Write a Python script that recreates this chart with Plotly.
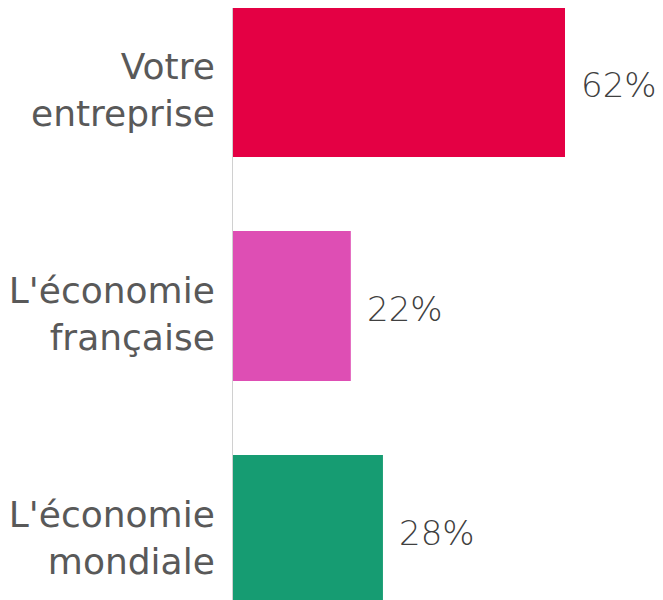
import plotly.graph_objects as go

categories = ["Votre<br>entreprise", "L'économie<br>française", "L'économie<br>mondiale"]
values = [62, 22, 28]
colors = ["#E40044", "#DE4EB4", "#169C72"]

fig = go.Figure()
fig.add_trace(go.Bar(
    x=values, y=categories, orientation="h",
    marker=dict(color=colors, line=dict(width=0)),
    width=0.67,
    hoverinfo="skip",
))
for c, v in zip(categories, values):
    fig.add_annotation(x=v, y=c, text=f"{v}%", showarrow=False,
                       xanchor="left", xshift=14, yshift=-3,
                       font=dict(family="DejaVu Sans", size=34, color="#404040", weight=300))

fig.update_layout(
    width=655, height=592,
    margin=dict(l=225, r=0, t=0, b=0, autoexpand=False),
    paper_bgcolor="white", plot_bgcolor="white",
    showlegend=False,
)
fig.update_xaxes(range=[0, 80.3], visible=False, automargin=False)
fig.update_yaxes(
    categoryorder="array", categoryarray=categories,
    range=[2.3125, -0.33],
    automargin=False,
    showgrid=False, zeroline=False,
    showline=True, linecolor="#D0D0D0", linewidth=1,
    ticks="", ticklabelstandoff=10, ticklabelshift=-8,
    tickfont=dict(family="DejaVu Sans", size=36, color="#595959"),
)
fig.write_html("out.html")
